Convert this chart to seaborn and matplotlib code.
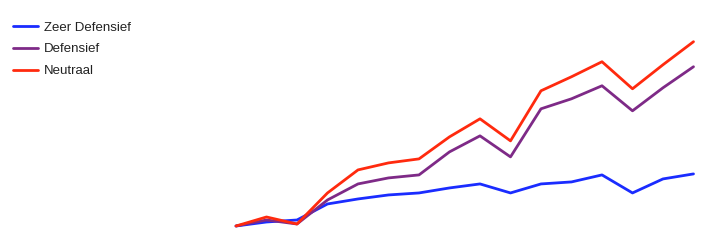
import matplotlib
matplotlib.use("Agg")
import matplotlib.pyplot as plt
import seaborn as sns
import pandas as pd
import numpy as np

sns.set_theme(style="white")
plt.rcParams['font.family'] = ['Liberation Sans', 'DejaVu Sans']

periods = list(range(16))
zeer_defensief = [0, 4, 6, 22, 27, 31, 33, 38, 42, 33, 42, 44, 51, 33, 47, 52]
defensief = [0, 6, 2, 26, 42, 48, 51, 74, 90, 69, 117, 127, 140, 115, 138, 159]
neutraal = [0, 9, 2, 33, 56, 63, 67, 89, 107, 85, 135, 149, 164, 137, 161, 184]

series_names = ["Zeer Defensief", "Defensief", "Neutraal"]
colors = ["#1a2cff", "#7e2a87", "#ff2a0e"]

df = pd.DataFrame({
    "periode": periods * 3,
    "waarde": zeer_defensief + defensief + neutraal,
    "serie": [series_names[0]] * 16 + [series_names[1]] * 16 + [series_names[2]] * 16,
})

W, H = 715, 245
fig = plt.figure(figsize=(W / 100, H / 100), dpi=100)
x0, x1 = 236, 693.5
y0, y1 = 226, 41.7
ax = fig.add_axes([x0 / W, (H - y0) / H, (x1 - x0) / W, (y0 - y1) / H])

sns.lineplot(data=df, x="periode", y="waarde", hue="serie",
             palette=dict(zip(series_names, colors)), linewidth=2,
             ax=ax, legend=False)
for ln in ax.get_lines():
    ln.set_clip_on(False)

ax.set_xlim(0, 15)
ax.set_ylim(0, 184)
ax.axis("off")

from matplotlib.lines import Line2D
handles = [Line2D([], [], color=c, linewidth=2) for c in colors]
fig.legend(handles, series_names, loc="upper left",
           bbox_to_anchor=(13 / W, (H - 21.5) / H), frameon=False,
           fontsize=9.5, handlelength=1.9, handletextpad=0.42,
           labelspacing=0.72, borderpad=0, borderaxespad=0,
           labelcolor="#222222")

fig.savefig("out.png", dpi=100)
